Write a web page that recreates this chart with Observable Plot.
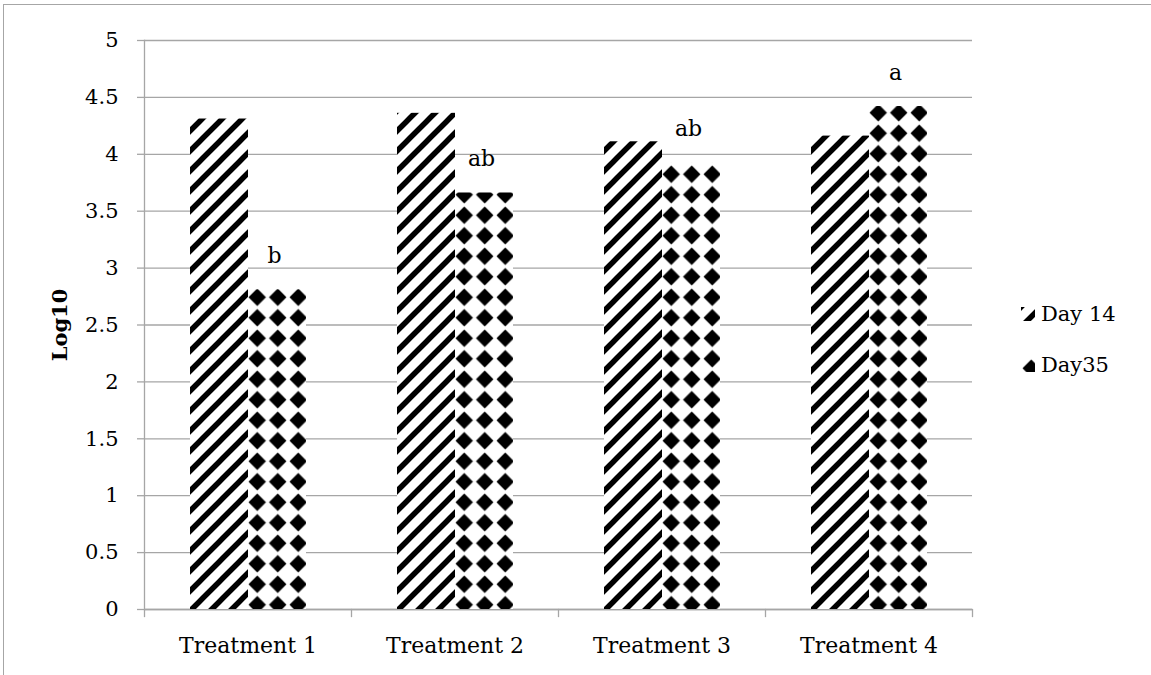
<!DOCTYPE html>
<html>
<head>
<meta charset="utf-8">
<script src="https://cdn.jsdelivr.net/npm/d3@7"></script>
<script src="https://cdn.jsdelivr.net/npm/@observablehq/plot@0.6"></script>
<style>
html, body { margin: 0; padding: 0; background: #fff; }
#wrap { position: relative; width: 1151px; height: 675px; overflow: hidden; background: #fff; font-family: "DejaVu Serif", serif; }
#chart { position: absolute; left: 0; top: 0; }
#border { position: absolute; left: 3px; top: 4px; width: 1200px; height: 700px; border-top: 1.5px solid #a6a6a6; border-left: 1.5px solid #a6a6a6; pointer-events: none; }
.leg { position: absolute; left: 1021px; font-size: 21px; color: #000; display: flex; align-items: center; white-space: nowrap; }
.leg svg { margin-right: 6px; }
</style>
</head>
<body>
<svg width="0" height="0" style="position:absolute">
  <defs>
    <pattern id="stripes" patternUnits="userSpaceOnUse" width="20" height="20">
      <rect width="20" height="20" fill="#fff"/>
      <path d="M-5,5 L5,-5 M0,20 L20,0 M15,25 L25,15" stroke="#000" stroke-width="5.5"/>
    </pattern>
    <pattern id="diamonds" patternUnits="userSpaceOnUse" width="20.5" height="20.5">
      <rect width="20.5" height="20.5" fill="#fff"/>
      <path d="M10.25,1.5 L19,10.25 L10.25,19 L1.5,10.25Z" fill="#000"/>
    </pattern>
  </defs>
</svg>
<div id="wrap">
  <div id="chart"></div>
  <div id="legend"></div>
  <div id="border"></div>
</div>
<script>
const treatments = ["Treatment 1", "Treatment 2", "Treatment 3", "Treatment 4"];
const series = ["Day 14", "Day35"];
const day14 = [4.31, 4.36, 4.11, 4.16];
const day35 = [2.81, 3.66, 3.92, 4.42];
const letters = ["b", "ab", "ab", "a"];
const yTicks = [0, 0.5, 1, 1.5, 2, 2.5, 3, 3.5, 4, 4.5, 5];
const patterns = ["url(#stripes)", "url(#diamonds)"];

const rows = treatments.flatMap((t, i) => [
  {treatment: t, series: series[0], value: day14[i]},
  {treatment: t, series: series[1], value: day35[i]}
]);
const labels = treatments.map((t, i) => ({treatment: t, series: series[1], value: day35[i], letter: letters[i]}));

const grey = "#a6a6a6";
const plotH = 675 - 40 - 66;

const chart = Plot.plot({
  width: 1151,
  height: 675,
  marginLeft: 143,
  marginRight: 179,
  marginTop: 40,
  marginBottom: 66,
  style: {fontFamily: '"DejaVu Serif", serif', fontSize: "21px", background: "transparent", color: "#000", overflow: "visible"},
  fx: {domain: treatments, padding: 0, label: null},
  x: {domain: series, paddingInner: 0, paddingOuter: 0.755, axis: null},
  y: {domain: [0, 5], label: null},
  color: {domain: series, range: patterns},
  marks: [
    Plot.gridY(yTicks, {stroke: grey, strokeOpacity: 1, strokeWidth: 1.3}),
    Plot.axisY(yTicks, {tickSize: 7, tickPadding: 19, stroke: grey, strokeWidth: 1.3, fill: "#000",
      tickFormat: d => String(d), fontSize: 21,
      label: "Log10", labelAnchor: "center", labelArrow: "none", labelOffset: 92}),
    Plot.frame({anchor: "left", stroke: grey, strokeWidth: 1.3, facetAnchor: "left"}),
    Plot.frame({anchor: "left", stroke: grey, strokeWidth: 1.3, insetTop: plotH, insetBottom: -7}),
    Plot.frame({anchor: "right", stroke: grey, strokeWidth: 1.3, insetTop: plotH, insetBottom: -7, facetAnchor: "right"}),
    Plot.ruleY([0], {stroke: grey, strokeWidth: 1.3}),
    Plot.barY(rows, {fx: "treatment", x: "series", y: "value", fill: "series"}),
    Plot.text(labels, {fx: "treatment", x: "series", y: "value", text: "letter", dy: -27, dx: -3, lineAnchor: "bottom", fontSize: 22}),
    Plot.axisFx({anchor: "bottom", tickSize: 0, tickPadding: 28, label: null, fontSize: 22})
  ]
});
document.getElementById("chart").appendChild(chart);

// style the y-axis label bold
chart.querySelectorAll("text").forEach(t => { if (t.textContent === "Log10") t.setAttribute("font-weight", "bold"); });

// legend
const legend = document.getElementById("legend");
series.forEach((s, i) => {
  const div = document.createElement("div");
  div.className = "leg";
  div.style.top = (i === 0 ? 302 : 353) + "px";
  div.innerHTML = `<svg width="14" height="14"><rect width="14" height="14" fill="${patterns[i]}"/></svg><span>${s}</span>`;
  legend.appendChild(div);
});
</script>
</body>
</html>
